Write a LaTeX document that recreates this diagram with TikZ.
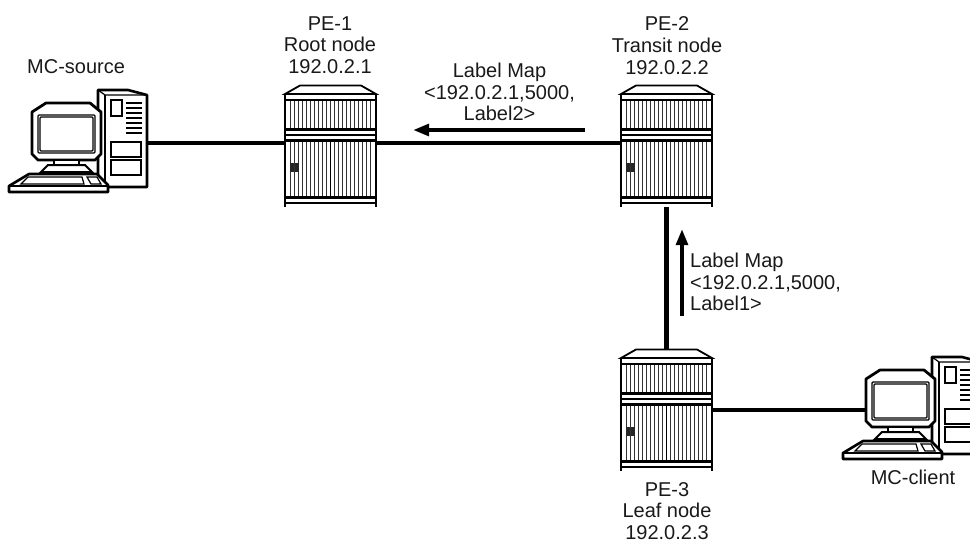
\documentclass[tikz,border=0pt]{standalone}
\usepackage{fontspec}
\setmainfont{Liberation Sans}
\usetikzlibrary{arrows.meta}
\tikzset{
 x=1pt,y=-1pt,
 link/.style={line width=4.5pt,black},
 flow/.style={line width=4.3pt,black,-{Triangle[length=16pt,width=11.5pt]}},
 lab/.style={align=center,font=\fontsize{20}{21.7}\selectfont,inner sep=0pt,text=black!90},
 labl/.style={align=left,font=\fontsize{20}{21.7}\selectfont,inner sep=0pt,anchor=west,text=black!90},
 router/.pic={
  \coordinate (-w) at (0,58);
  \coordinate (-e) at (91,58);
  \coordinate (-n) at (45.5,0);
  \coordinate (-s) at (45.5,122);
  \foreach \i in {0,...,20}{
    \draw[line width=1pt,black!80] ({5.5+\i*4},15) -- ({5.5+\i*4},44);
    \draw[line width=1pt,black!80] ({5.5+\i*4},55) -- ({5.5+\i*4},112);
  }
  \draw[line width=1.8pt] (0,9) -- (15,0.5) -- (76,0.5) -- (91,9) -- cycle;
  \draw[line width=1.6pt] (0,15) -- (91,15);
  \draw[line width=3pt] (0,44.5) -- (91,44.5);
  \draw[line width=1.4pt] (0,50) -- (91,50);
  \draw[line width=3pt] (0,55) -- (91,55);
  \draw[line width=3pt] (0,112.5) -- (91,112.5);
  \draw[line width=1.6pt] (0,118) -- (91,118);
  \draw[line width=2.6pt] (0,9) -- (0,122);
  \draw[line width=2.6pt] (91,9) -- (91,122);
  \draw[line width=1.4pt] (45.5,55) -- (45.5,112);
  \fill[black!85] (5,78) rectangle (9,87);
  \fill[black!85] (10,78) rectangle (14,87);
 },
 computer/.pic={
  \coordinate (-e) at (147,63);
  \coordinate (-w) at (32,63);
  % tower
  \draw[line width=2.6pt,fill=white,line join=round] (98,10) -- (128,10) -- (147,15) -- (147,107) -- (98,107) -- cycle;
  \draw[line width=1.2pt] (98,10) -- (105,15) -- (147,15);
  \draw[line width=1.2pt] (105,15) -- (105,107);
  \draw[line width=1.2pt] (111,20) rectangle (122,36);
  \draw[line width=1.2pt] (111,62) rectangle (141,77);
  \draw[line width=1.2pt] (111,80) rectangle (141,95);
  \foreach \y in {23,28,33,38,43,48,53}{\draw[line width=1.1pt] (126,\y) -- (142,\y);}
  % monitor
  \draw[line width=2.8pt,fill=white,line join=round] (32,32) -- (46,23) -- (90,23) -- (101,32) -- (101,74) -- (95,80) -- (38,80) -- (32,74) -- cycle;
  \draw[line width=1.4pt,rounded corners=1pt] (38,35) rectangle (95,73);
  \draw[line width=1.2pt,rounded corners=1pt] (40,37) rectangle (93,71);
  % stand
  \draw[line width=2pt,fill=white] (54,81) -- (54,86) -- (79,86) -- (79,81);
  \draw[line width=2pt,fill=white] (48,85) -- (41,92) -- (92,92) -- (85,85) -- cycle;
  % keyboard
  \draw[line width=2.6pt,fill=white,line join=round] (29,94) -- (97,94) -- (108,105) -- (108,112) -- (9,112) -- (9,106) -- cycle;
  \draw[line width=1.3pt] (9,106) -- (108,106);
  \draw[line width=1.2pt] (28,97) -- (82,97) -- (84,104) -- (21,104) -- cycle;
  \draw[line width=1.2pt] (87,97) -- (97,97) -- (101,104) -- (91,104) -- cycle;
 }
}
\begin{document}
\begin{tikzpicture}
\clip (0,0) rectangle (970,542);
\path[use as bounding box] (0,0) rectangle (970,542);
\pic (src) at (0,80) {computer};
\pic (cli) at (834,347) {computer};
\pic (peA) at (285,85) {router};
\pic (peB) at (621,85) {router};
\pic (peC) at (621,349) {router};
\coordinate (arrAs) at (585,130);
\coordinate (arrAe) at (413,130);
\coordinate (arrBs) at (682,316);
\coordinate (arrBe) at (682,229);
\draw[link] (src-e) -- (peA-w);
\draw[link] (peA-e) -- (peB-w);
\draw[link] (peB-s) -- (peC-n);
\draw[link] (peC-e |- cli-w) -- (cli-w);
\draw[flow] (arrAs) -- (arrAe);
\draw[flow] (arrBs) -- (arrBe);
\node[lab] (t1) at (330,45) {PE-1\\Root node\\192.0.2.1};
\node[lab] (t2) at (667,45.5) {PE-2\\Transit node\\192.0.2.2};
\node[lab] (t3) at (667,511) {PE-3\\Leaf node\\192.0.2.3};
\node[labl] (t4) at (27,67) {MC-source};
\node[lab] (t5) at (913,477) {MC-client};
\node[lab] (t6) at (499.5,92) {Label Map\\<192.0.2.1,5000,\\Label2>};
\node[labl] (t7) at (690,282) {Label Map\\<192.0.2.1,5000,\\Label1>};
\end{tikzpicture}
\end{document}
